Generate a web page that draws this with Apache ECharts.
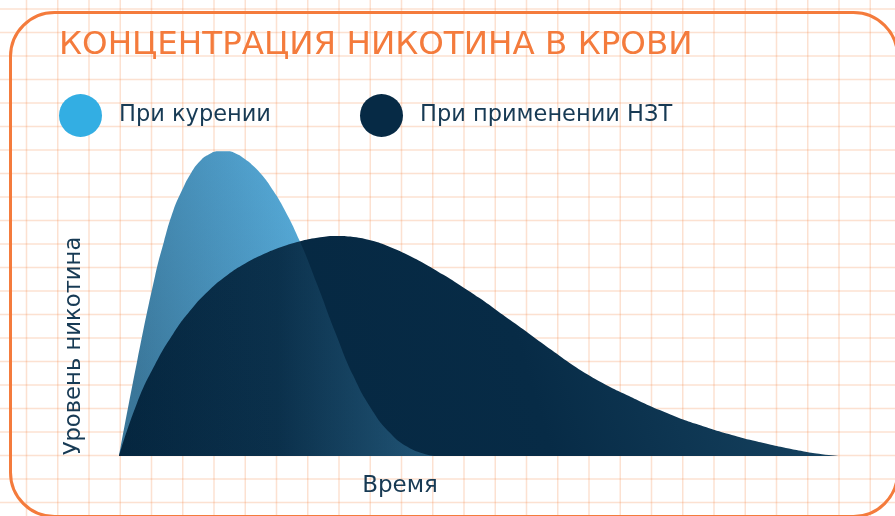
<!DOCTYPE html>
<html>
<head>
<meta charset="utf-8">
<script src="https://cdn.jsdelivr.net/npm/echarts@6/dist/echarts.min.js"></script>
<style>
html,body{margin:0;padding:0;background:#fff;}
#chart{width:895px;height:516px;}
</style>
</head>
<body>
<div id="chart"></div>
<script>
// Data (x: time 0..100, y: nicotine level 0..100)
const seriesNames = ['При курении', 'При применении НЗТ'];
const smokingX = [0, 2.5, 5, 6.25, 7.5, 8.75, 10, 11.25, 12.5, 13.75, 15, 16.25, 17.5, 18.75, 20, 21.25, 22.5, 25, 27.5, 30, 32.5, 35, 37.5, 40, 42.5, 44];
const smokingY = [0, 30.8, 58.8, 70.2, 80.0, 86.9, 92.5, 96.4, 98.6, 99.6, 99.6, 98.8, 97.0, 94.5, 91.3, 87.2, 82.5, 70.6, 56.0, 40.4, 26.2, 15.4, 7.8, 3.0, 0.6, 0];
const nrtX = [0, 2.5, 5, 7.5, 10, 12.5, 15, 17.5, 20, 22.5, 25, 27.5, 30, 32.5, 35, 37.5, 40, 42.5, 45, 47.5,
  50, 52.5, 55, 57.5, 60, 62.5, 65, 67.5, 70, 72.5, 75, 77.5, 80, 82.5, 85, 87.5, 90, 92.5, 95, 97.5, 100];
const nrtY = [0, 17.3, 29.9, 39.9, 47.9, 54.2, 59.1, 62.9, 65.9, 68.3, 70.1, 71.3, 71.9, 71.6, 70.4, 68.4, 65.8, 62.7, 59.2, 55.5,
  51.6, 47.4, 43.2, 38.9, 34.6, 30.4, 26.6, 23.3, 20.4, 17.6, 15.0, 12.6, 10.5, 8.6, 6.9, 5.3, 3.9, 2.6, 1.5, 0.6, 0];
const titleText = 'КОНЦЕНТРАЦИЯ НИКОТИНА В КРОВИ';
const xAxisLabel = 'Время';
const yAxisLabel = 'Уровень никотина';

const zip = (xs, ys) => xs.map((x, i) => [x, ys[i]]);
const FONT = 'DejaVu Sans';
const TEXT = '#173a54';
const GRIDC = 'rgba(244,128,64,0.24)';

// background paper grid
const bg = [];
for (let k = 0; k < 30; k++) {
  const x = 26.5 + 31.25 * k;
  bg.push({type: 'line', silent: true, z: -10, shape: {x1: x, y1: 0, x2: x, y2: 516},
    style: {stroke: GRIDC, lineWidth: 1.5}});
}
for (let k = 0; k < 23; k++) {
  const y = 9 + 23.5 * k;
  bg.push({type: 'line', silent: true, z: -10, shape: {x1: 0, y1: y, x2: 895, y2: y},
    style: {stroke: GRIDC, lineWidth: 1.5}});
}
bg.push({type: 'rect', silent: true, z: -5, shape: {x: 10.5, y: 12.5, width: 887, height: 504, r: 44},
  style: {fill: 'none', stroke: '#f47b3c', lineWidth: 3}});
bg.push({type: 'text', z: 10, x: 59, y: 46, style: {text: titleText, fill: '#f47b3c',
  font: '32.5px "' + FONT + '"', verticalAlign: 'middle', align: 'left'}});
bg.push({type: 'text', z: 10, x: 400, y: 486, style: {text: xAxisLabel, fill: TEXT,
  font: '23px "' + FONT + '"', verticalAlign: 'middle', align: 'center'}});
bg.push({type: 'text', z: 10, x: 74, y: 346, rotation: Math.PI / 2, style: {text: yAxisLabel, fill: TEXT,
  font: '22.7px "' + FONT + '"', verticalAlign: 'middle', align: 'center'}});

const chart = echarts.init(document.getElementById('chart'), null, {renderer: 'canvas'});
chart.setOption({
  backgroundColor: 'transparent',
  animation: false,
  graphic: bg,
  legend: [
    {left: 59, top: 94, padding: 0, itemWidth: 43, itemHeight: 43, icon: 'circle', selectedMode: false,
     textStyle: {fontFamily: FONT, fontSize: 22.5, color: TEXT, padding: [0, 0, 0, 12]},
     data: [{name: seriesNames[0], itemStyle: {color: '#33aee3'}}]},
    {left: 360, top: 94, padding: 0, itemWidth: 43, itemHeight: 43, icon: 'circle', selectedMode: false,
     textStyle: {fontFamily: FONT, fontSize: 22.5, color: TEXT, padding: [0, 0, 0, 12]},
     data: [{name: seriesNames[1], itemStyle: {color: '#062a45'}}]}
  ],
  grid: {left: 119, right: 55, top: 150, bottom: 60},
  xAxis: {type: 'value', min: 0, max: 100, show: false},
  yAxis: {type: 'value', min: 0, max: 100, show: false},
  series: [
    {name: seriesNames[0], type: 'line', data: zip(smokingX, smokingY), smooth: 0.5,
     symbol: 'none', lineStyle: {width: 0}, z: 2,
     areaStyle: {opacity: 1, color: new echarts.graphic.LinearGradient(0, 0.6, 1, 0.3, [
       {offset: 0, color: '#3a7699'}, {offset: 0.45, color: '#4c98c3'}, {offset: 0.75, color: '#5ab2e0'}, {offset: 1, color: '#5cb6e4'}])}},
    {name: seriesNames[1], type: 'line', data: zip(nrtX, nrtY), smooth: 0.5,
     symbol: 'none', lineStyle: {width: 0}, z: 3,
     areaStyle: {opacity: 1, color: new echarts.graphic.LinearGradient(0, 1, 1, 0, [
       {offset: 0, color: '#05263f'}, {offset: 0.55, color: '#072b46'}, {offset: 0.85, color: '#133e5b'}, {offset: 1, color: '#1f4e6c'}])}},
    {name: 'overlap', type: 'line', data: zip(smokingX, smokingY), smooth: 0.5,
     symbol: 'none', lineStyle: {width: 0}, z: 4, silent: true,
     areaStyle: {opacity: 1, color: new echarts.graphic.LinearGradient(0, 0, 1, 0, [
       {offset: 0, color: 'rgba(92,180,228,0)'}, {offset: 0.5, color: 'rgba(92,180,228,0.06)'}, {offset: 1, color: 'rgba(92,180,228,0.32)'}])}}
  ]
});
</script>
</body>
</html>
